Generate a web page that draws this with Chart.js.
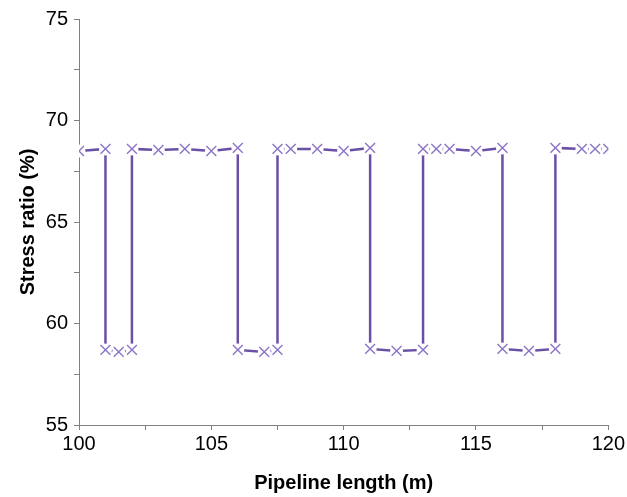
<!DOCTYPE html>
<html lang="en">
<head>
    <meta charset="UTF-8">
    <title>Stress ratio</title>
    <script src="https://cdn.jsdelivr.net/npm/chart.js"></script>
    <style>
        body {
            margin: 0;
            padding: 0;
            background: #fff;
        }
    </style>
</head>
<body>
    <canvas id="chart" width="627" height="497"></canvas>

    <script>
        // pipeline length (m) and stress ratio (%)
        const lengths = [100, 101, 101, 101.5, 102, 102, 103, 104, 105, 106, 106, 107, 107.5, 107.5, 108, 109, 110, 111,
                         111, 112, 113, 113, 113.5, 114, 115, 116, 116, 117, 118, 118, 119, 119.5, 120];
        const ratios = [68.5, 68.6, 58.7, 58.6, 58.7, 68.6, 68.55, 68.6, 68.5, 68.65, 58.7, 58.6, 58.7, 68.6, 68.6, 68.6, 68.5, 68.65,
                        58.75, 58.65, 58.7, 68.6, 68.6, 68.6, 68.5, 68.65, 58.75, 58.65, 58.75, 68.65, 68.6, 68.6, 68.6];
        const xTicks = [100, 105, 110, 115, 120];
        const yTicks = [55, 60, 65, 70, 75];

        const points = lengths.map((x, i) => ({ x: x, y: ratios[i] }));
        const axisColor = '#808080';
        const font = { family: 'Liberation Sans, Arial, sans-serif', size: 20 };

        new Chart(document.getElementById('chart'), {
            type: 'line',
            data: {
                datasets: [
                    {
                        // symbols
                        data: points,
                        showLine: false,
                        pointStyle: 'crossRot',
                        pointRadius: 7,
                        pointBorderWidth: 1.4,
                        pointBorderColor: '#8c74c6',
                        clip: 0,
                        order: 1
                    },
                    {
                        // white "gap to symbol" mask
                        data: points,
                        showLine: false,
                        pointStyle: 'circle',
                        pointRadius: 6.5,
                        pointBorderWidth: 0,
                        pointBackgroundColor: '#ffffff',
                        clip: 0,
                        order: 2
                    },
                    {
                        data: points,
                        borderColor: '#6a4fa5',
                        borderWidth: 2.5,
                        pointRadius: 0,
                        tension: 0,
                        clip: 0,
                        order: 3
                    }
                ]
            },
            options: {
                responsive: false,
                animation: false,
                layout: { padding: { left: 8, right: 18, top: 19, bottom: 2 } },
                plugins: {
                    legend: { display: false },
                    tooltip: { enabled: false }
                },
                scales: {
                    x: {
                        type: 'linear',
                        min: 100,
                        max: 120,
                        z: 1,
                        border: { color: axisColor, width: 1 },
                        grid: { drawOnChartArea: false, tickLength: 5, color: axisColor },
                        ticks: {
                            stepSize: 2.5,
                            color: '#000',
                            font: font,
                            padding: 2,
                            maxRotation: 0,
                            callback: v => xTicks.includes(v) ? v : ''
                        },
                        title: {
                            display: true,
                            text: 'Pipeline length (m)',
                            color: '#000',
                            font: { family: font.family, size: 20, weight: 'bold' },
                            padding: { top: 14, bottom: 0 }
                        },
                        afterFit: s => { s.height = 70; }
                    },
                    y: {
                        min: 55,
                        max: 75,
                        z: 1,
                        border: { color: axisColor, width: 1 },
                        grid: { drawOnChartArea: false, tickLength: 5, color: axisColor },
                        ticks: {
                            stepSize: 2.5,
                            color: '#000',
                            font: font,
                            padding: 6,
                            callback: v => yTicks.includes(v) ? v : ''
                        },
                        title: {
                            display: true,
                            text: 'Stress ratio (%)',
                            color: '#000',
                            font: { family: font.family, size: 20, weight: 'bold' },
                            padding: { top: 8, bottom: 6 }
                        },
                        afterFit: s => { s.width = 71; }
                    }
                }
            }
        });
    </script>
</body>
</html>
